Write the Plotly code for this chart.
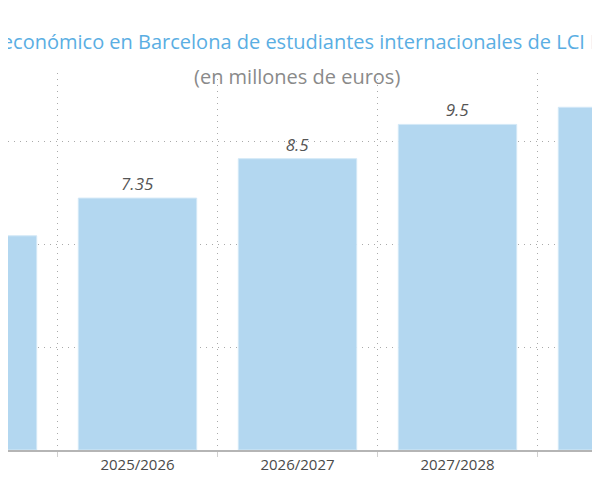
import plotly.graph_objects as go

cursos = ["2024/2025", "2025/2026", "2026/2027", "2027/2028", "2028/2029"]
impacto = [6.25, 7.35, 8.5, 9.5, 10.0]
etiquetas = ["6.25", "7.35", "8.5", "9.5", "10"]

colors = {
    'bar': '#b3d7f0',
    'title': '#5aaee3',
    'subtitle': '#8a8a8a',
    'text': '#4a4a4a',
    'grid': '#aaaaaa',
}

fig = go.Figure(go.Bar(
    x=cursos, y=impacto,
    text=etiquetas, textposition='outside',
    textfont=dict(family='Open Sans', size=17, color='#555555', style='italic'),
    marker=dict(color=colors['bar'], line=dict(width=1, color='#d3e8f7')),
    cliponaxis=True,
))

# page body adds 8px on each side -> figure 584x484
fig.update_layout(
    width=584, height=484,
    margin=dict(l=0, r=0, t=65, b=42),
    plot_bgcolor='white', paper_bgcolor='white',
    font=dict(family='Open Sans', color=colors['text']),
    bargap=0.26,
    showlegend=False,
    title=dict(
        text='Impacto económico en Barcelona de estudiantes internacionales de LCI Barcelona',
        x=0.5034, xanchor='center', y=0.93, yanchor='middle',
        font=dict(size=20, color=colors['title']),
    ),
    annotations=[dict(
        text='(en millones de euros)', xref='paper', yref='paper',
        x=0.4957, y=0.992, xanchor='center', yanchor='middle', showarrow=False,
        font=dict(size=20, color=colors['subtitle']),
    )],
)

fig.update_xaxes(
    type='category', range=[0.1906, 3.8406],
    tickson='boundaries', showgrid=True, griddash='1px,5px',
    gridcolor=colors['grid'], gridwidth=1,
    ticks='outside', ticklen=5, tickcolor='#d0d0d0',
    showline=True, linecolor='#b5b5b5', linewidth=2,
    tickfont=dict(size=15, color=colors['text']),
)
fig.update_yaxes(
    range=[0, 11], dtick=3, showgrid=True, griddash='1px,5px',
    gridcolor=colors['grid'], gridwidth=1,
    showticklabels=False, zeroline=False,
)

fig.write_html("out.html")
